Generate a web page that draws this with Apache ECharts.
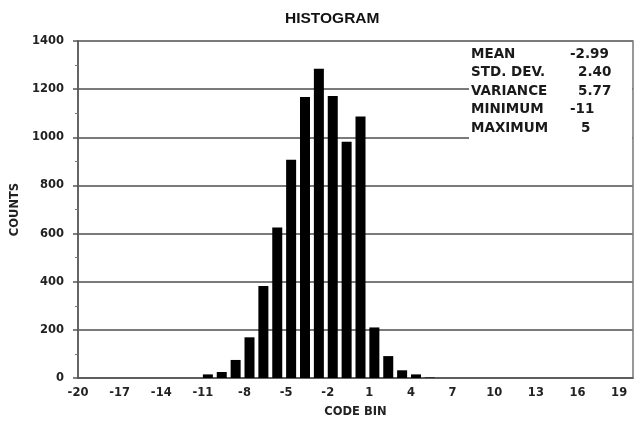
<!DOCTYPE html>
<html>
<head>
<meta charset="utf-8">
<script src="https://cdn.jsdelivr.net/npm/echarts@6/dist/echarts.min.js"></script>
<style>html,body{margin:0;padding:0;background:#fff}#c{width:640px;height:423px}</style>
</head>
<body>
<div id="c"></div>
<script>
var bins = [];
for (var b = -20; b <= 20; b++) bins.push(String(b));
// counts per code bin (-20 .. 20)
var counts = [0,0,0,0,0,0,0,0,0,
  15,25,75,169,382,625,907,1167,1285,1171,981,1086,210,91,32,15,2,
  0,0,0,0,0,0,0,0,0,0,0,0,0,0,0];
var statLabels = ['MEAN','STD. DEV.','VARIANCE','MINIMUM','MAXIMUM'];
var statValues = ['-2.99','2.40','5.77','-11','5'];
var statValueX = [570,578,578,570,581];

var chart = echarts.init(document.getElementById('c'), null, {renderer:'canvas'});
var font = 'Liberation Sans, Arial, sans-serif';
var wide = 'DejaVu Sans, Verdana, sans-serif';
var graphics = [{
  type:'rect', shape:{x:469,y:42,width:163,height:97}, style:{fill:'#fff'}, z:5
}];
statLabels.forEach(function(l,i){
  graphics.push({type:'text', x:471, y:54+i*18.6, z:10,
    style:{text:l, font:'bold 13.5px '+wide, fill:'#1a1a1a', textVerticalAlign:'middle'}});
  graphics.push({type:'text', x:statValueX[i], y:54+i*18.6, z:10,
    style:{text:statValues[i], font:'bold 13.5px '+wide, fill:'#1a1a1a', textVerticalAlign:'middle'}});
});
chart.setOption({
  animation:false,
  backgroundColor:'#fff',
  title:{text:'HISTOGRAM', left:280, top:6,
    textStyle:{fontFamily:font, fontWeight:'bold', fontSize:15.5, color:'#111'}},
  grid:{left:78, right:7, top:41, bottom:42, show:true, borderColor:'#777', borderWidth:1.5, backgroundColor:'transparent'},
  xAxis:{type:'category', data:bins, boundaryGap:false,
    name:'CODE BIN', nameLocation:'middle', nameGap:28,
    nameTextStyle:{fontFamily:wide, fontWeight:'bold', fontSize:11.5, color:'#222'},
    axisLine:{lineStyle:{color:'#555', width:1.5}},
    axisTick:{show:false},
    axisLabel:{interval:2, margin:9, fontFamily:wide, fontWeight:'bold', fontSize:11.5, color:'#222'},
    splitLine:{show:false}},
  yAxis:{type:'value', min:0, max:1400, interval:200,
    name:'COUNTS', nameLocation:'middle', nameGap:51, nameRotate:90,
    nameTextStyle:{fontFamily:wide, fontWeight:'bold', fontSize:11.5, color:'#222'},
    axisLine:{show:true, lineStyle:{color:'#555', width:1.5}},
    axisTick:{show:true, length:5, lineStyle:{color:'#555', width:1.5}},
    minorTick:{show:true, splitNumber:2, length:3, lineStyle:{color:'#777'}},
    axisLabel:{margin:14, fontFamily:wide, fontWeight:'bold', fontSize:11.5, color:'#222',
      formatter:function(v){return String(v);}},
    splitLine:{show:true, lineStyle:{color:'#7a7a7a', width:1.8}}},
  series:[
    {type:'bar', name:'pad', data:[], barWidth:10, barGap:'0%', silent:true},
    {type:'bar', name:'counts', data:counts, barWidth:10, barGap:'0%',
     itemStyle:{color:'#000'}, z:3}
  ],
  graphic:graphics
});
</script>
</body>
</html>
